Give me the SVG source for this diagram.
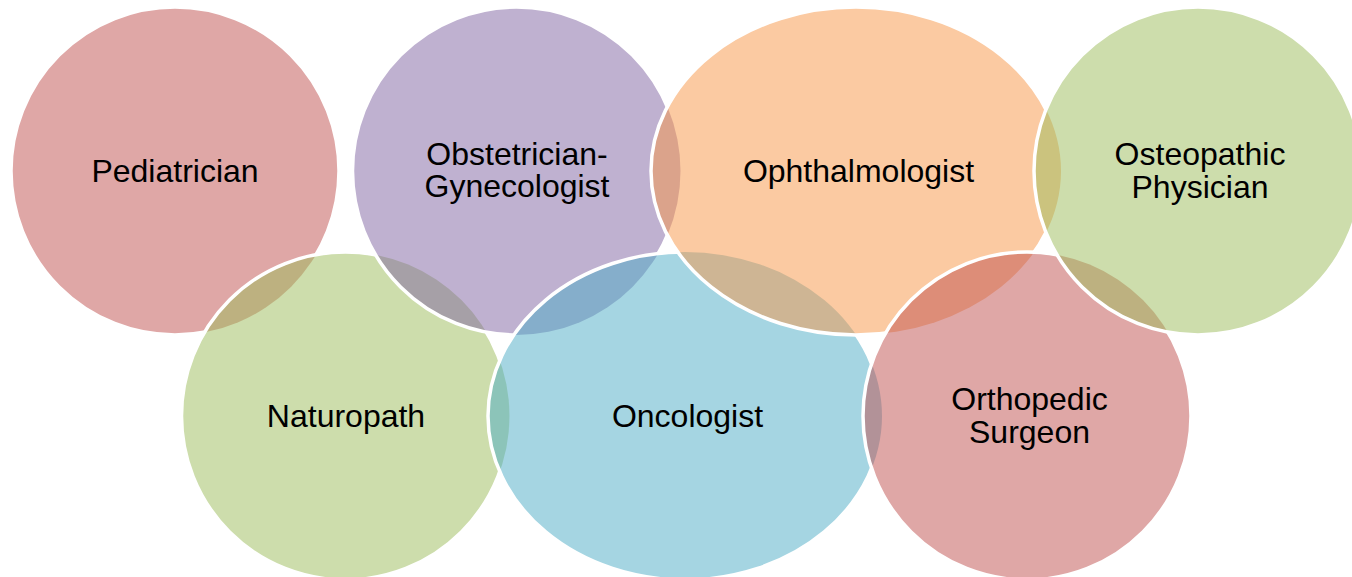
<svg xmlns="http://www.w3.org/2000/svg" xmlns:xlink="http://www.w3.org/1999/xlink" width="1352" height="577" viewBox="0 0 1352 577">
<style>
.fill{fill-opacity:0.5;stroke:none}
.ring{fill:none;stroke:#ffffff;stroke-width:3.5}
.lbl{font-family:"Liberation Sans",Arial,sans-serif;font-size:32px;fill:#000000;text-anchor:middle}
</style>
<defs>
<circle id="s-ped" cx="175" cy="171" r="164"/>
<circle id="s-nat" cx="345.5" cy="416" r="164"/>
<circle id="s-obs" cx="516.5" cy="171" r="164"/>
<ellipse id="s-onc" cx="685" cy="416" rx="197" ry="164"/>
<ellipse id="s-oph" cx="856" cy="171" rx="205" ry="164"/>
<circle id="s-ort" cx="1027" cy="416" r="164"/>
<circle id="s-ost" cx="1198" cy="171" r="164"/>
<mask id="m-ped" maskUnits="userSpaceOnUse" x="0" y="0" width="1352" height="577">
<rect width="1352" height="577" fill="#fff"/>
<use href="#s-nat" fill="#000"/>
</mask>
<mask id="m-nat" maskUnits="userSpaceOnUse" x="0" y="0" width="1352" height="577">
<rect width="1352" height="577" fill="#fff"/>
<use href="#s-obs" fill="#000"/>
<use href="#s-onc" fill="#000"/>
</mask>
<mask id="m-obs" maskUnits="userSpaceOnUse" x="0" y="0" width="1352" height="577">
<rect width="1352" height="577" fill="#fff"/>
<use href="#s-onc" fill="#000"/>
<use href="#s-oph" fill="#000"/>
</mask>
<mask id="m-onc" maskUnits="userSpaceOnUse" x="0" y="0" width="1352" height="577">
<rect width="1352" height="577" fill="#fff"/>
<use href="#s-oph" fill="#000"/>
<use href="#s-ort" fill="#000"/>
</mask>
<mask id="m-oph" maskUnits="userSpaceOnUse" x="0" y="0" width="1352" height="577">
<rect width="1352" height="577" fill="#fff"/>
<use href="#s-ort" fill="#000"/>
<use href="#s-ost" fill="#000"/>
</mask>
<mask id="m-ort" maskUnits="userSpaceOnUse" x="0" y="0" width="1352" height="577">
<rect width="1352" height="577" fill="#fff"/>
<use href="#s-ost" fill="#000"/>
</mask>
</defs>
<rect width="1352" height="577" fill="#ffffff"/>
<g id="connectors"></g>
<g id="node-pediatrician">
<use href="#s-ped" class="fill" fill="#C0504D"/>
<use href="#s-ped" class="ring" mask="url(#m-ped)"/>
<text class="lbl" x="175" y="181.5">Pediatrician</text>
</g>
<g id="node-naturopath">
<use href="#s-nat" class="fill" fill="#9BBB59"/>
<use href="#s-nat" class="ring" mask="url(#m-nat)"/>
<text class="lbl" x="346" y="426.5">Naturopath</text>
</g>
<g id="node-obstetrician">
<use href="#s-obs" class="fill" fill="#8064A2"/>
<use href="#s-obs" class="ring" mask="url(#m-obs)"/>
<text class="lbl" x="517" y="164.5">Obstetrician-</text>
<text class="lbl" x="517" y="197">Gynecologist</text>
</g>
<g id="node-oncologist">
<use href="#s-onc" class="fill" fill="#4BACC6"/>
<use href="#s-onc" class="ring" mask="url(#m-onc)"/>
<text class="lbl" x="687.5" y="426.5">Oncologist</text>
</g>
<g id="node-ophthalmologist">
<use href="#s-oph" class="fill" fill="#F79646"/>
<use href="#s-oph" class="ring" mask="url(#m-oph)"/>
<text class="lbl" x="858.5" y="181.5">Ophthalmologist</text>
</g>
<g id="node-orthopedic">
<use href="#s-ort" class="fill" fill="#C0504D"/>
<use href="#s-ort" class="ring" mask="url(#m-ort)"/>
<text class="lbl" x="1029.5" y="410">Orthopedic</text>
<text class="lbl" x="1029.5" y="443">Surgeon</text>
</g>
<g id="node-osteopathic">
<use href="#s-ost" class="fill" fill="#9BBB59"/>
<use href="#s-ost" class="ring"/>
<text class="lbl" x="1200" y="164.5">Osteopathic</text>
<text class="lbl" x="1200" y="197.5">Physician</text>
</g>
</svg>
